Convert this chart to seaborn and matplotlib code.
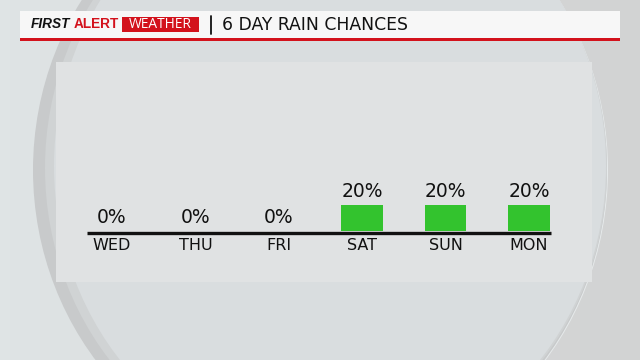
import matplotlib
matplotlib.use("Agg")
import matplotlib.pyplot as plt
import seaborn as sns
import pandas as pd
import numpy as np
from matplotlib.patches import Rectangle, Ellipse
from matplotlib.colors import LinearSegmentedColormap

days = ["WED", "THU", "FRI", "SAT", "SUN", "MON"]
chances = [0, 0, 0, 20, 20, 20]
title_text = "6 DAY RAIN CHANCES"

sns.set_theme(style="white")
plt.rcParams['font.family'] = ['DejaVu Sans']

W, H = 640, 360
fig = plt.figure(figsize=(6.4, 3.6), dpi=100)
fig.patch.set_facecolor("#d9dcdd")

# background layer in pixel coordinates
bg = fig.add_axes([0, 0, 1, 1], zorder=0)
bg.set_xlim(0, W); bg.set_ylim(H, 0); bg.axis("off")
grad = np.linspace(0, 1, 64)[None, :]
cm = LinearSegmentedColormap.from_list("bgc", ["#dfe4e5", "#d8dadb", "#d2d3d3"])
bg.imshow(grad, cmap=cm, extent=(0, W, H, 0), aspect="auto", zorder=0)
# circle: shadow crescent on left, light rim on right
bg.add_patch(Ellipse((322, 170), 572, 610, facecolor="#e6eaeb", edgecolor="none", zorder=1))
bg.add_patch(Ellipse((320, 170), 574, 610, facecolor="#c8cacb", edgecolor="none", zorder=2))
bg.add_patch(Ellipse((326, 168), 562, 602, facecolor="#d0d3d4", edgecolor="none", zorder=3))
bg.add_patch(Ellipse((330, 166), 552, 598, facecolor="#d9dddf", edgecolor="none", zorder=4))

# main panel axes
left, right, top, bottom = 56, 592, 62, 282
ax = fig.add_axes([left / W, 1 - bottom / H, (right - left) / W, (bottom - top) / H], zorder=1)
df = pd.DataFrame({"day": days, "chance": chances})
sns.barplot(data=df, x="day", y="chance", color="#33c32e", width=0.5,
            saturation=1, ax=ax, edgecolor="none")
ax.set_facecolor("#e0e2e3")
ax.set_xlim(-0.671, 5.756)
ax.set_ylim(-39.2, 130)
for s in ax.spines.values():
    s.set_visible(False)
ax.set_xticks([]); ax.set_yticks([])
ax.set_xlabel(""); ax.set_ylabel("")
ax.plot([-0.3, 5.26], [-1.2, -1.2], color="#111111", lw=2.4, solid_capstyle="butt", zorder=3)
for i, (d, v) in enumerate(zip(days, chances)):
    ax.text(i, v + 10.5, f"{v}%", ha="center", va="center", fontsize=13.5, color="#111111")
    ax.text(i, -11, d, ha="center", va="center", fontsize=11.5, color="#111111")

# header
hd = fig.add_axes([0, 0, 1, 1], zorder=2)
hd.set_xlim(0, W); hd.set_ylim(H, 0); hd.axis("off")
hd.add_patch(Rectangle((20, 11), 600, 27, facecolor="#f7f7f7", edgecolor="none"))
hd.add_patch(Rectangle((20, 38), 600, 3, facecolor="#d3121c", edgecolor="none"))
hd.add_patch(Rectangle((122, 17), 77, 15, facecolor="#d3121c", edgecolor="none"))
hd.text(31, 24.5, "FIRST", fontsize=9.8, fontweight="bold", style="italic",
        family="Liberation Sans", color="#111111", va="center", ha="left")
hd.text(74, 24.5, "ALERT", fontsize=9.8, fontweight="bold", family="Liberation Sans",
        color="#d3121c", va="center", ha="left")
hd.text(160.5, 24.5, "WEATHER", fontsize=9.9, family="Open Sans", color="white",
        va="center", ha="center")
hd.plot([211, 211], [16, 34], color="#111111", lw=1.3)
hd.text(222, 25, title_text, fontsize=12.4, color="#111111", va="center", ha="left")

fig.savefig("out.png", dpi=100)
